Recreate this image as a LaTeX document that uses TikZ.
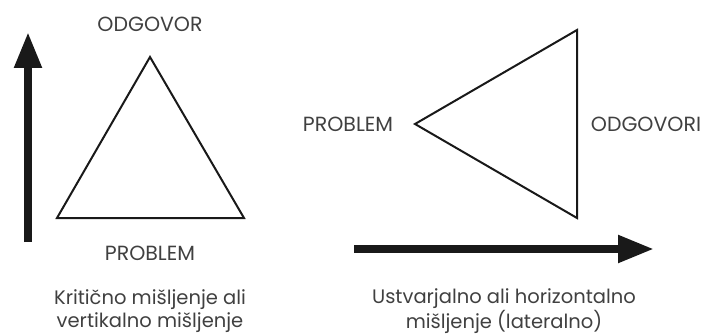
\documentclass[tikz,border=0pt]{standalone}
\usepackage{fontspec}
\setmainfont{Poppins}
\usetikzlibrary{arrows.meta}
\tikzset{
  lbl/.style={font=\fontsize{20.5}{22}\selectfont, text=black!75, inner sep=0pt},
  captxt/.style={font=\fontsize{19.5}{23}\selectfont, text=black!75, inner sep=0pt, align=center},
  tri/.style={draw=black!90, line width=2pt, line join=miter},
  bigarrow/.style={draw=black!90, line width=8pt, -{Triangle[width=26pt,length=36pt]}}
}
\begin{document}
\begin{tikzpicture}[x=1pt,y=-1pt]
\useasboundingbox (0,0) rectangle (703,334);
% left triangle
\coordinate (LA) at (150,57);
\coordinate (LB) at (57,218);
\coordinate (LC) at (244,218);
\draw[tri] (LA) -- (LB) -- (LC) -- cycle;
\node[lbl] (odg) at (150,24) {ODGOVOR};
\node[lbl] (prob1) at (150,253) {PROBLEM};
\node[captxt] (capL) at (150,311) {Kritično mišljenje ali\\vertikalno mišljenje};
\coordinate (va) at (28,242);
\coordinate (vb) at (28,32);
\draw[bigarrow] (va) -- (vb);
% right triangle
\coordinate (RA) at (415,124);
\coordinate (RB) at (577,30);
\coordinate (RC) at (577,218);
\draw[tri] (RA) -- (RB) -- (RC) -- cycle;
\node[lbl] (prob2) at (348,124) {PROBLEM};
\node[lbl] (odg2) at (646,124) {ODGOVORI};
\coordinate (ha) at (354,249);
\coordinate (hb) at (654,249);
\draw[bigarrow] (ha) -- (hb);
\node[captxt] (capR) at (504,311) {Ustvarjalno ali horizontalno\\mišljenje (lateralno)};
\end{tikzpicture}
\end{document}
